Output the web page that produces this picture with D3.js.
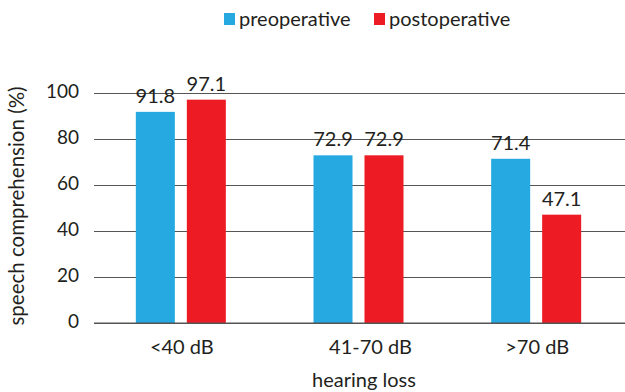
<!DOCTYPE html>
<html>
<head>
<meta charset="utf-8">
<script src="https://cdn.jsdelivr.net/npm/d3@7/dist/d3.min.js"></script>
<style>
  html, body { margin: 0; padding: 0; background: #fff; }
  svg { display: block; }
  text { font-family: Lato, "Noto Sans", sans-serif; fill: #231f20; }
</style>
</head>
<body>
<svg id="chart" width="625" height="392"></svg>
<script>
// Speech comprehension before and after surgery, grouped by hearing loss
const categories = ["<40 dB", "41-70 dB", ">70 dB"];
const seriesNames = ["preoperative", "postoperative"];
const preoperative = [91.8, 72.9, 71.4];
const postoperative = [97.1, 72.9, 47.1];
const yTicks = [0, 20, 40, 60, 80, 100];
const colors = ["#25a9e0", "#ed1c24"];

const rows = categories.map((c, i) => ({
  category: c,
  values: [preoperative[i], postoperative[i]]
}));

const svg = d3.select("#chart");
const margin = { top: 93, right: 0, bottom: 69, left: 94 };
const width = 625, height = 392;
const plotW = width - margin.left - margin.right;
const plotH = height - margin.top - margin.bottom;

const g = svg.append("g").attr("transform", `translate(${margin.left},${margin.top})`);

const groupW = 90;
const x0 = d3.scaleBand().domain(categories).range([-2, plotW]).paddingInner(0).paddingOuter(0);
const x1 = d3.scaleBand().domain(seriesNames).range([0, groupW]).paddingInner(0.235);
const y = d3.scaleLinear().domain([0, 100]).range([plotH, 0]);

// horizontal gridlines with left tick labels
const yAxis = d3.axisLeft(y).tickValues(yTicks).tickSize(-plotW).tickPadding(15).tickFormat(d3.format("d"));
const ya = g.append("g").call(yAxis);
ya.select(".domain").remove();
ya.selectAll(".tick line").attr("stroke", "#555").attr("stroke-width", 1.1);
ya.selectAll(".tick text").style("font-size", "19px").attr("dy", "0.25em").attr("fill", "#231f20");

// bars
const groups = g.selectAll(".grp").data(rows).join("g")
  .attr("class", "grp")
  .attr("transform", d => `translate(${x0(d.category) + x0.bandwidth() / 2 - groupW / 2},0)`);

const cells = d => d.values.map((v, i) => ({ key: seriesNames[i], v, i }));

groups.selectAll("rect").data(cells)
  .join("rect")
  .attr("x", d => x1(d.key))
  .attr("width", x1.bandwidth())
  .attr("y", d => y(d.v))
  .attr("height", d => y(0) - y(d.v))
  .attr("fill", d => colors[d.i]);

groups.selectAll("text.val").data(cells)
  .join("text")
  .attr("class", "val")
  .attr("x", d => x1(d.key) + x1.bandwidth() / 2)
  .attr("y", d => y(d.v) - 9)
  .attr("text-anchor", "middle")
  .style("font-size", "20px")
  .text(d => d.v.toFixed(1));

// x axis category labels
const xAxis = d3.axisBottom(x0).tickSize(0).tickPadding(17);
const xa = g.append("g").attr("transform", `translate(0,${plotH})`).call(xAxis);
xa.select(".domain").remove();
xa.selectAll(".tick text")
  .style("font-size", "20px")
  .attr("fill", "#231f20")
  .attr("dx", (d, i) => (i === 1 ? 12 : 1));
g.append("line").attr("x1", 0).attr("x2", plotW).attr("y1", plotH).attr("y2", plotH)
  .attr("stroke", "#555").attr("stroke-width", 1.1);

// axis titles
svg.append("text")
  .attr("x", 364)
  .attr("y", 387)
  .attr("text-anchor", "middle")
  .style("font-size", "20px")
  .text("hearing loss");

svg.append("text")
  .attr("transform", `translate(24,206) rotate(-90)`)
  .attr("text-anchor", "middle")
  .style("font-size", "20.5px")
  .text("speech comprehension (%)");

// legend
const legend = svg.append("g").attr("transform", "translate(224,13)");
const legendX = [0, 150];
seriesNames.forEach((name, i) => {
  const lg = legend.append("g").attr("transform", `translate(${legendX[i]},0)`);
  lg.append("rect").attr("width", 11).attr("height", 12).attr("fill", colors[i]);
  lg.append("text").attr("x", 15).attr("y", 13).style("font-size", "20px").text(name);
});
</script>
</body>
</html>
